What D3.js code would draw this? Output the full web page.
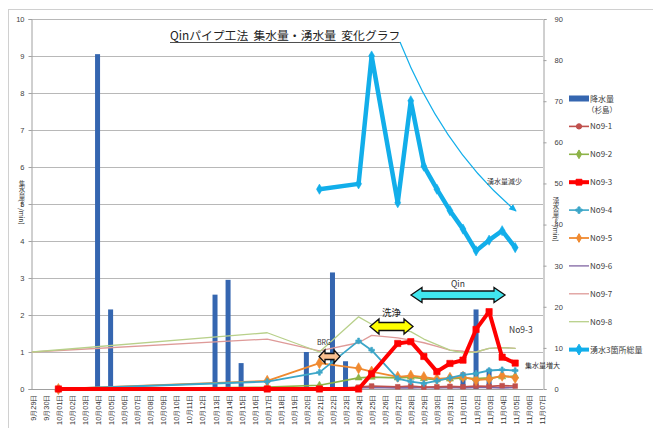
<!DOCTYPE html>
<html>
<head>
<meta charset="utf-8">
<script src="https://cdn.jsdelivr.net/npm/d3@7"></script>
<style>
  html, body { margin: 0; padding: 0; background: #fff; }
  svg { display: block; font-family: "Noto Sans CJK JP", "Noto Sans", sans-serif; }
</style>
</head>
<body>
<svg id="chart" width="653" height="428"></svg>
<script>
// Category axis: every calendar day shown under the plot
const dayLabels = [
  "9月29日","9月30日","10月01日","10月02日","10月03日","10月04日","10月05日","10月06日",
  "10月07日","10月08日","10月09日","10月10日","10月11日","10月12日","10月13日","10月14日",
  "10月15日","10月16日","10月17日","10月18日","10月19日","10月20日","10月21日","10月22日",
  "10月23日","10月24日","10月25日","10月26日","10月27日","10月28日","10月29日","10月30日",
  "10月31日","11月01日","11月02日","11月03日","11月04日","11月05日","11月06日","11月07日"
];

// Rainfall (杉島), mm — left axis
const rainDays   = ["10月04日","10月05日","10月13日","10月14日","10月15日","10月20日","10月22日","10月23日","11月01日","11月02日","11月03日"];
const rainValues = [9.05, 2.15, 2.55, 2.95, 0.7, 1.0, 3.15, 0.75, 0.45, 2.15, 0.55];

// Measurement days for the collection pipes and spring water
const obsDays = ["9月29日","10月01日","10月17日","10月21日","10月24日","10月25日","10月27日","10月28日",
                 "10月29日","10月30日","10月31日","11月01日","11月02日","11月03日","11月04日","11月05日"];

// Collected water per pipe (left axis)
const no9_1 = [null, 0, 0,    0,    0.05, 0.08, 0.06, 0.08, 0.05, 0.06, 0.07, 0.06, 0.08, 0.07, 0.09, 0.08];
const no9_2 = [null, 0, 0.05, 0.1,  0.3,  0.32, 0.3,  0.32, 0.28, 0.25, 0.27, 0.3,  0.28, 0.3,  0.33, 0.35];
const no9_3 = [null, 0, 0,    0,    0,    0.41, 1.23, 1.28, 0.88, 0.47, 0.69, 0.78, 1.61, 2.09, 0.86, 0.7];
const no9_4 = [null, 0, 0.2,  0.45, 1.3,  1.05, 0.28, 0.2,  0.15, 0.22, 0.3,  0.38, 0.42, 0.5,  0.52, 0.5];
const no9_5 = [null, 0, 0.22, 0.7,  0.56, 0.47, 0.33, 0.36, 0.32, 0.27, 0.3,  0.33, 0.24, 0.27, 0.36, 0.3];
const no9_6 = [null, 0, 0.01, 0.02, 0.03, 0.04, 0.03, 0.03, 0.04, 0.03, 0.04, 0.03, 0.04, 0.04, 0.03, 0.04];
const no9_7 = [1.0, null, 1.35, 1.03, 1.25, 1.45, 1.38, 1.32, 1.25, 1.15, 1.05, 1.02, 1.0, 1.1, 1.12, 1.1];
const no9_8 = [1.0, null, 1.52, 1.0,  1.95, 1.75, 1.6,  1.55, 1.35, 1.2,  1.05, 0.98, 1.0, 1.1, 1.12, 1.1];

// Total spring water at three points (right axis)
const springTotal = [null, null, null, 48.6, 49.9, 81.0, 45.3, 70.1, 54.2, 48.6, 43.4, 38.9, 33.6, 36.2, 38.5, 34.4];

const leftTicks  = [0,1,2,3,4,5,6,7,8,9,10];
const rightTicks = [0,10,20,30,40,50,60,70,80,90];

const svg = d3.select("#chart");
const plot = { left: 31, right: 543, top: 19, bottom: 389 };

const x  = d3.scalePoint().domain(dayLabels).range([32.3, 541.3]);
const yL = d3.scaleLinear().domain([0, 10]).range([plot.bottom, plot.top]);
const yR = d3.scaleLinear().domain([0, 90]).range([plot.bottom, plot.top]);

const textCol = "#404040";

// outer chart frame
svg.append("rect").attr("x", 8.5).attr("y", 9.5).attr("width", 660).attr("height", 440)
  .attr("fill", "none").attr("stroke", "#d0d0d0").attr("stroke-width", 1);

// horizontal gridlines
svg.append("g").selectAll("line").data(leftTicks.slice(1)).join("line")
  .attr("x1", plot.left).attr("x2", plot.right)
  .attr("y1", d => Math.round(yL(d)) + 0.5).attr("y2", d => Math.round(yL(d)) + 0.5)
  .attr("stroke", "#b8b8b8").attr("stroke-width", 1);

// left axis
const gL = svg.append("g").attr("transform", `translate(${plot.left + 0.5},0)`)
  .call(d3.axisLeft(yL).tickValues(leftTicks).tickSize(3).tickPadding(4));
gL.select(".domain").attr("stroke", "#a0a0a0");
gL.selectAll(".tick line").attr("stroke", "#a0a0a0");
gL.selectAll("text").attr("fill", textCol).style("font-size", "7.5px").style("font-family", "Liberation Sans, sans-serif");

// right axis
const gR = svg.append("g").attr("transform", `translate(${plot.right + 0.5},0)`)
  .call(d3.axisRight(yR).tickValues(rightTicks).tickSize(3).tickPadding(8));
gR.select(".domain").attr("stroke", "#a0a0a0");
gR.selectAll(".tick line").attr("stroke", "#a0a0a0");
gR.selectAll("text").attr("fill", textCol).style("font-size", "7.5px").style("font-family", "Liberation Sans, sans-serif");

// bottom category axis, labels read bottom-to-top
const gB = svg.append("g").attr("transform", `translate(0,${plot.bottom + 0.5})`)
  .call(d3.axisBottom(x).tickSize(0).tickPadding(0));
gB.select(".domain").attr("stroke", "#a0a0a0").attr("d", `M${plot.left},0H${plot.right}`);
gB.selectAll(".tick text")
  .attr("transform", "translate(3,5) rotate(-90)")
  .attr("text-anchor", "end").attr("dy", 0).attr("y", 0).attr("x", 0)
  .attr("fill", "#333").style("font-size", "7.4px");

// axis titles written vertically
svg.append("text").attr("x", 22).attr("y", 180)
  .style("writing-mode", "vertical-rl").style("font-size", "6.5px").attr("fill", textCol)
  .text("集水量(ℓ/min)");
svg.append("text").attr("x", 556).attr("y", 197)
  .style("writing-mode", "vertical-rl").style("font-size", "6.5px").attr("fill", textCol)
  .text("湧水量(ℓ/min)");

// rainfall bars
svg.append("g").selectAll("rect").data(rainDays.map((d, i) => ({ d, v: rainValues[i] }))).join("rect")
  .attr("x", d => x(d.d) - 2.5).attr("width", 5)
  .attr("y", d => yL(d.v)).attr("height", d => yL(0) - yL(d.v))
  .attr("fill", "#3566B0");

const pts = arr => obsDays.map((d, i) => ({ d, v: arr[i] })).filter(p => p.v !== null);

function drawSeries(arr, scale, color, width, marker) {
  const data = pts(arr);
  const line = d3.line().x(p => x(p.d)).y(p => scale(p.v));
  svg.append("path").datum(data).attr("d", line)
    .attr("fill", "none").attr("stroke", color).attr("stroke-width", width)
    .attr("stroke-linejoin", "round").attr("stroke-linecap", "round");
  if (marker) {
    const sym = d3.symbol().type(marker.type).size(marker.size);
    svg.append("g").selectAll("path").data(data).join("path")
      .attr("transform", p => `translate(${x(p.d)},${scale(p.v)})`)
      .attr("d", sym).attr("fill", color).attr("stroke", color).attr("stroke-width", 0.6);
  }
}

drawSeries(no9_7, yL, "#DE9A98", 1.3, null);
drawSeries(no9_8, yL, "#B8D08A", 1.3, null);
drawSeries(no9_6, yL, "#8064A2", 1.6, null);
drawSeries(no9_1, yL, "#C0504D", 1.6, { type: d3.symbolSquare, size: 22 });
drawSeries(no9_2, yL, "#8DB348", 1.6, { type: d3.symbolTriangle, size: 22 });
drawSeries(no9_5, yL, "#F08A30", 1.8, { type: d3.symbolDiamond, size: 36 });
drawSeries(no9_4, yL, "#3CA6C8", 1.8, { type: d3.symbolCross, size: 18 });
drawSeries(no9_3, yL, "#FF0000", 4, { type: d3.symbolSquare, size: 40 });
drawSeries(springTotal, yR, "#12AEEA", 4.5, { type: d3.symbolDiamond, size: 30 });

// ---- annotations ----
const title = svg.append("text").attr("x", 170).attr("y", 40)
  .style("font-size", "11.8px").style("white-space", "pre").attr("xml:space", "preserve")
  .attr("fill", "#222")
  .text("Qinパイプ工法  集水量・湧水量  変化グラフ");
const tb = title.node().getBBox();
svg.append("line").attr("x1", tb.x).attr("x2", tb.x + tb.width)
  .attr("y1", 42.5).attr("y2", 42.5).attr("stroke", "#222").attr("stroke-width", 0.8);

// decreasing-spring curved arrow
svg.append("defs").append("marker").attr("id", "ah").attr("viewBox", "0 0 10 10")
  .attr("refX", 8).attr("refY", 5).attr("markerWidth", 7).attr("markerHeight", 7)
  .attr("orient", "auto")
  .append("path").attr("d", "M0,1 L9,5 L0,9 z").attr("fill", "#12AEEA");
svg.append("path").attr("d", "M400,42 Q443,150 516,211")
  .attr("fill", "none").attr("stroke", "#12AEEA").attr("stroke-width", 1.2)
  .attr("marker-end", "url(#ah)");
svg.append("text").attr("x", 487).attr("y", 184).style("font-size", "7px").attr("fill", "#333").text("湧水量減少");

function dblArrow(x0, x1, cy, h, H, L, fill) {
  const p = d3.path();
  p.moveTo(x0, cy);
  p.lineTo(x0 + L, cy - H); p.lineTo(x0 + L, cy - h);
  p.lineTo(x1 - L, cy - h); p.lineTo(x1 - L, cy - H);
  p.lineTo(x1, cy);
  p.lineTo(x1 - L, cy + H); p.lineTo(x1 - L, cy + h);
  p.lineTo(x0 + L, cy + h); p.lineTo(x0 + L, cy + H);
  p.closePath();
  svg.append("path").attr("d", p.toString()).attr("fill", fill)
    .attr("stroke", "#111").attr("stroke-width", 1.3).attr("stroke-linejoin", "miter");
}
dblArrow(319, 340, 356.5, 3, 6.5, 6, "#FAC090");
dblArrow(370, 413, 326.5, 4, 7.5, 9, "#FFFF00");
dblArrow(411, 505, 295, 4, 7.5, 11, "#40E6EE");

svg.append("text").attr("x", 317).attr("y", 345).style("font-size", "7px").attr("fill", "#333").text("BRG");
svg.append("text").attr("x", 382).attr("y", 316).style("font-size", "9.5px").attr("fill", "#222").text("洗浄");
svg.append("text").attr("x", 451).attr("y", 287).style("font-size", "8.5px").attr("fill", "#333").text("Qin");
svg.append("text").attr("x", 509).attr("y", 333).style("font-size", "8.5px").attr("fill", "#333").text("No9-3");
svg.append("text").attr("x", 525).attr("y", 368).style("font-size", "7px").attr("fill", "#333").text("集水量増大");

// ---- legend ----
const legendItems = [
  { name: "降水量", color: "#3566B0", kind: "bar" },
  { name: "No9-1", color: "#C0504D", w: 1.6, m: d3.symbolCircle },
  { name: "No9-2", color: "#8DB348", w: 1.6, m: d3.symbolDiamond },
  { name: "No9-3", color: "#FF0000", w: 4,   m: d3.symbolSquare },
  { name: "No9-4", color: "#3CA6C8", w: 1.6, m: d3.symbolCross },
  { name: "No9-5", color: "#F08A30", w: 1.8, m: d3.symbolDiamond },
  { name: "No9-6", color: "#8064A2", w: 1.3 },
  { name: "No9-7", color: "#DE9A98", w: 1.3 },
  { name: "No9-8", color: "#B8D08A", w: 1.3 },
  { name: "湧水3箇所総量", color: "#12AEEA", w: 4, m: d3.symbolDiamond }
];
const lg = svg.append("g");
legendItems.forEach((it, i) => {
  const cy = 98.5 + i * 27.9;
  if (it.kind === "bar") {
    lg.append("rect").attr("x", 569).attr("y", cy - 3).attr("width", 20).attr("height", 6).attr("fill", it.color);
  } else {
    lg.append("line").attr("x1", 569).attr("x2", 589).attr("y1", cy).attr("y2", cy)
      .attr("stroke", it.color).attr("stroke-width", it.w);
    if (it.m) {
      lg.append("path").attr("transform", `translate(579,${cy})`)
        .attr("d", d3.symbol().type(it.m).size(it.w > 3 ? 34 : 22)).attr("fill", it.color).attr("stroke", it.color);
    }
  }
  lg.append("text").attr("x", 590).attr("y", cy + 3).style("font-size", "8px").attr("fill", textCol).text(it.name);
});
lg.append("text").attr("x", 587).attr("y", 113).style("font-size", "7.5px").attr("fill", textCol).text("（杉島）");
</script>
</body>
</html>
